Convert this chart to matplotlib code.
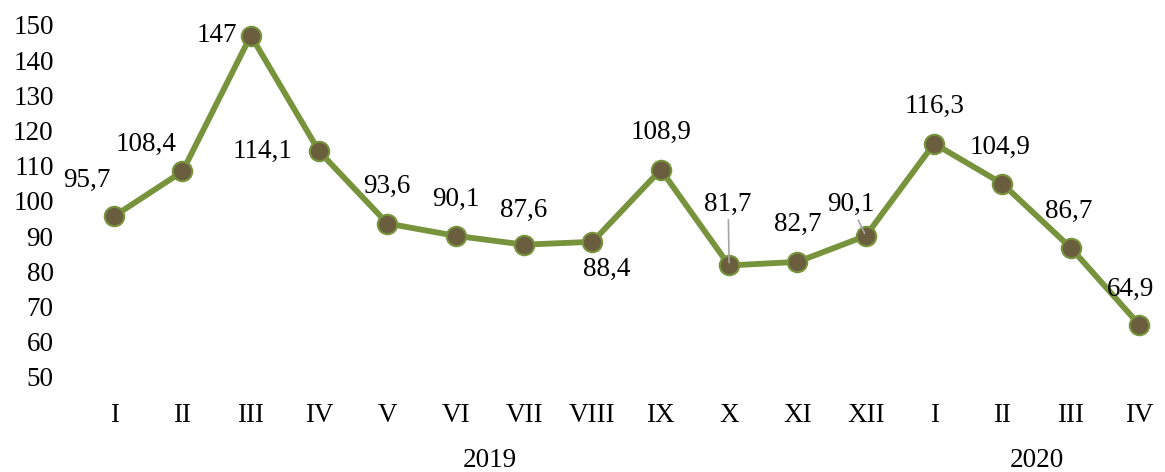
import matplotlib
matplotlib.use("Agg")
import matplotlib.pyplot as plt

months = ["I", "II", "III", "IV", "V", "VI", "VII", "VIII", "IX", "X", "XI", "XII",
          "I", "II", "III", "IV"]
values = [95.7, 108.4, 147, 114.1, 93.6, 90.1, 87.6, 88.4, 108.9, 81.7, 82.7, 90.1,
          116.3, 104.9, 86.7, 64.9]
labels = ["95,7", "108,4", "147", "114,1", "93,6", "90,1", "87,6", "88,4", "108,9",
          "81,7", "82,7", "90,1", "116,3", "104,9", "86,7", "64,9"]
years = ["2019", "2020"]
year_spans = [(0, 11), (12, 15)]

# label offsets in pixels (dx, dy) relative to each point
offsets = [(-27, 36), (-36, 27), (-26, 0), (-39, 0), (-1, 37), (0, 36), (0, 34),
           (14, -28), (0, 37), (-1, 61), (0, 37), (-15, 31), (0, 37), (-2, 36),
           (-2, 36), (-9, 35)]
leader = [False] * 16
leader[9] = True
leader[11] = True

plt.rcParams["font.family"] = ["Liberation Serif", "DejaVu Serif"]
FS = 19.5

fig = plt.figure(figsize=(11.65, 4.72), dpi=100)
ax = fig.add_axes([80 / 1165, 1 - 377 / 472, 1085 / 1165, 352 / 472])

x = list(range(len(values)))
ax.plot(x, values, color="#77933C", linewidth=4.2, marker="o", markersize=14,
        markerfacecolor="#6B5E3E", markeredgecolor="#77933C", markeredgewidth=1.5,
        zorder=3)

for i, (v, lab) in enumerate(zip(values, labels)):
    dx, dy = offsets[i]
    ha = "center"
    if dy == 0:
        ha = "right"
        dx = dx + 12
    kw = {}
    if leader[i]:
        kw["arrowprops"] = dict(arrowstyle="-", color="#A6A6A6", lw=1.2,
                                shrinkA=0, shrinkB=2)
    ax.annotate(lab, (i, v), xytext=(dx, dy), textcoords="offset pixels",
                ha=ha, va="center", fontsize=FS, color="black", **kw)

ax.set_xlim(-0.5, -0.5 + 1085 / 68.33)
ax.set_ylim(50, 150)
ax.set_yticks(range(50, 151, 10))
ax.set_xticks(x)
ax.set_xticklabels(months)
ax.tick_params(axis="both", length=0, labelsize=FS)
ax.tick_params(axis="x", pad=19)
ax.tick_params(axis="y", pad=19)
for s in ax.spines.values():
    s.set_visible(False)

for yr, (a, b) in zip(years, year_spans):
    ax.text((a + b) / 2, -0.236, yr, transform=ax.get_xaxis_transform(),
            ha="center", va="center", fontsize=FS)

fig.savefig("out.png", dpi=100)
